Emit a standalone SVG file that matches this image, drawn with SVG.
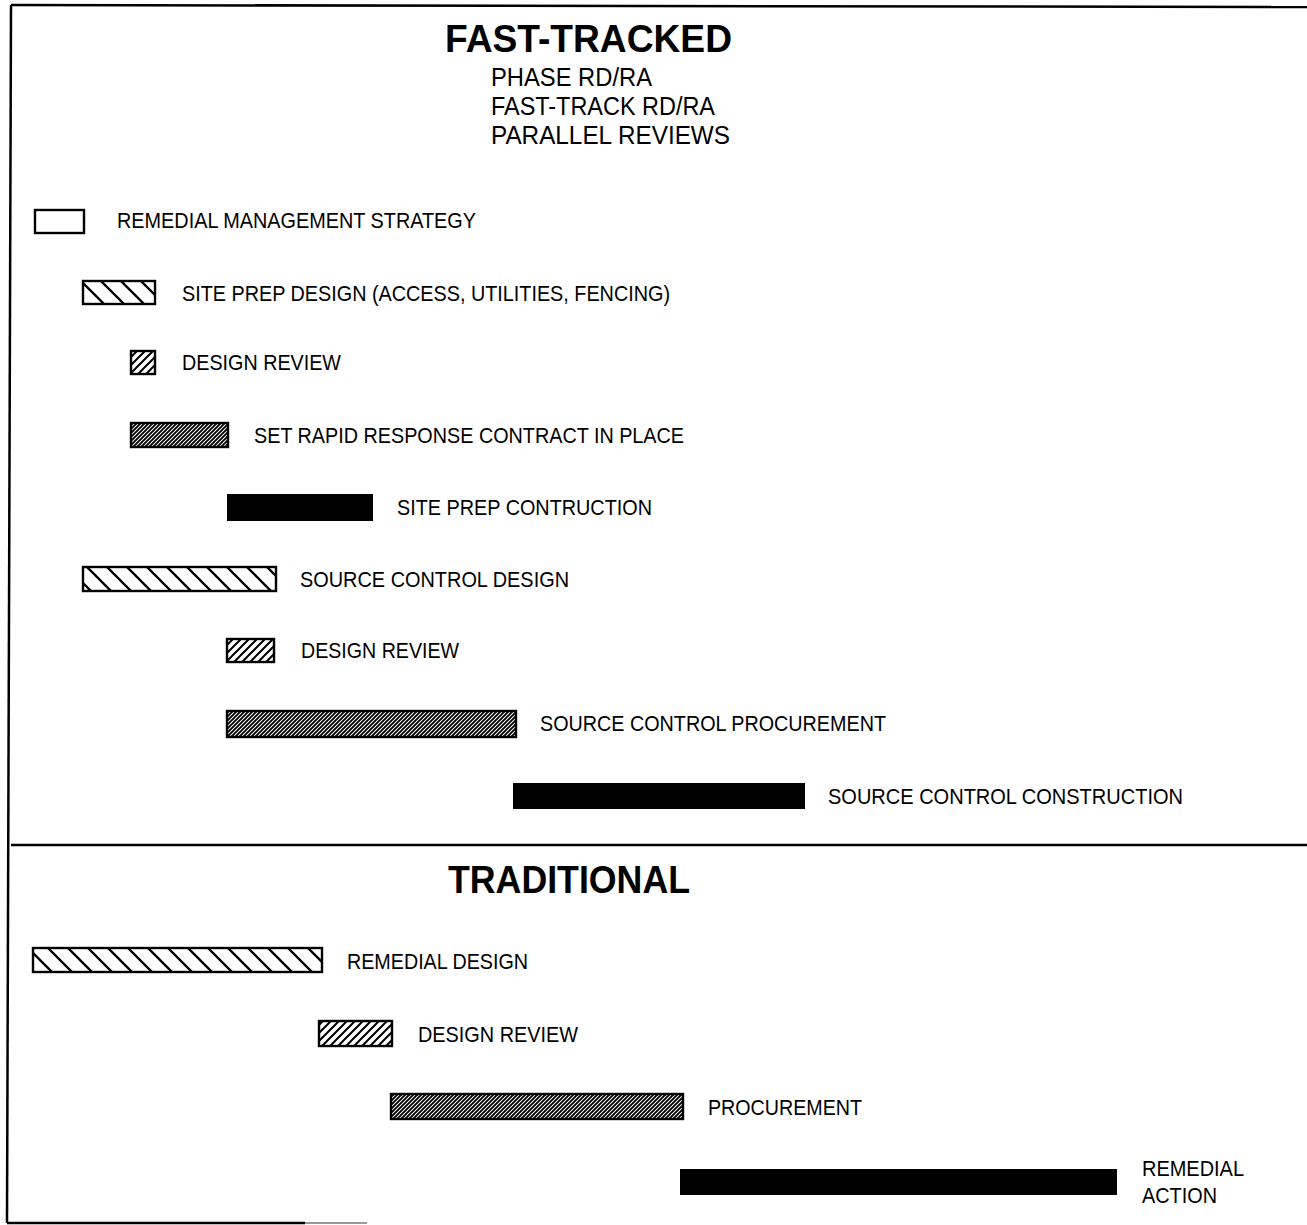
<svg xmlns="http://www.w3.org/2000/svg" width="1307" height="1225" viewBox="0 0 1307 1225">
<style>
.t{font-family:"Liberation Sans",Arial,sans-serif;font-size:22.5px;fill:#000}
.h{font-family:"Liberation Sans",Arial,sans-serif;font-size:25px;fill:#000}
.title{font-family:"Liberation Sans",Arial,sans-serif;font-size:39px;font-weight:bold;fill:#000}
.box{stroke:#000;stroke-width:2.4}
.frame{stroke:#000;stroke-width:2.5;fill:none}
</style>
<defs>
<pattern id="wide" width="20" height="20" patternUnits="userSpaceOnUse">
<rect width="20" height="20" fill="#fff"/>
<path d="M0,0 L20,20 M-2,18 L2,22 M18,-2 L22,2" stroke="#000" stroke-width="2.3"/>
</pattern>
<pattern id="med" width="8" height="8" patternUnits="userSpaceOnUse">
<rect width="8" height="8" fill="#fff"/>
<path d="M-1,9 L9,-1 M-3,3 L3,-3 M5,11 L11,5" stroke="#000" stroke-width="2"/>
</pattern>
<pattern id="fine" width="4" height="4" patternUnits="userSpaceOnUse">
<rect width="4" height="4" fill="#fff"/>
<path d="M-1,5 L5,-1 M-2,2 L2,-2 M2,6 L6,2" stroke="#000" stroke-width="1.9"/>
</pattern>
</defs>
<rect width="1307" height="1225" fill="#fff"/>
<g id="frame">
<line class="frame" x1="11" y1="5" x2="1307" y2="7"/>
<line class="frame" x1="11" y1="5" x2="7" y2="1223"/>
<line class="frame" x1="11" y1="845" x2="1307" y2="845"/>
<line class="frame" x1="7" y1="1223" x2="305" y2="1223"/>
<line x1="305" y1="1223" x2="367" y2="1223" stroke="#999" stroke-width="2"/>
</g>
<g id="header-fast">
<text class="title" x="445" y="52" textLength="287" lengthAdjust="spacingAndGlyphs">FAST-TRACKED</text>
<text class="h" x="491" y="86" textLength="161" lengthAdjust="spacingAndGlyphs">PHASE RD/RA</text>
<text class="h" x="491" y="115" textLength="224" lengthAdjust="spacingAndGlyphs">FAST-TRACK RD/RA</text>
<text class="h" x="491" y="144" textLength="239" lengthAdjust="spacingAndGlyphs">PARALLEL REVIEWS</text>
</g>
<g id="n1"><rect class="box" x="35" y="210" width="49" height="23" fill="#fff"/><text class="t" x="117" y="228" textLength="359" lengthAdjust="spacingAndGlyphs">REMEDIAL MANAGEMENT STRATEGY</text></g>
<g id="n2"><rect class="box" x="83" y="281" width="72" height="23" fill="url(#wide)"/><text class="t" x="182" y="301" textLength="488" lengthAdjust="spacingAndGlyphs">SITE PREP DESIGN (ACCESS, UTILITIES, FENCING)</text></g>
<g id="n3"><rect class="box" x="131" y="351" width="24" height="23" fill="url(#med)"/><text class="t" x="182" y="370" textLength="159" lengthAdjust="spacingAndGlyphs">DESIGN REVIEW</text></g>
<g id="n4"><rect class="box" x="131" y="423" width="97" height="24" fill="url(#fine)"/><text class="t" x="254" y="443" textLength="430" lengthAdjust="spacingAndGlyphs">SET RAPID RESPONSE CONTRACT IN PLACE</text></g>
<g id="n5"><rect x="227" y="494" width="146" height="27" fill="#000"/><text class="t" x="397" y="515" textLength="255" lengthAdjust="spacingAndGlyphs">SITE PREP CONTRUCTION</text></g>
<g id="n6"><rect class="box" x="83" y="567" width="193" height="24" fill="url(#wide)"/><text class="t" x="300" y="587" textLength="269" lengthAdjust="spacingAndGlyphs">SOURCE CONTROL DESIGN</text></g>
<g id="n7"><rect class="box" x="227" y="639" width="47" height="23" fill="url(#med)"/><text class="t" x="301" y="658" textLength="158" lengthAdjust="spacingAndGlyphs">DESIGN REVIEW</text></g>
<g id="n8"><rect class="box" x="227" y="711" width="289" height="26" fill="url(#fine)"/><text class="t" x="540" y="731" textLength="346" lengthAdjust="spacingAndGlyphs">SOURCE CONTROL PROCUREMENT</text></g>
<g id="n9"><rect x="513" y="783" width="292" height="26" fill="#000"/><text class="t" x="828" y="804" textLength="355" lengthAdjust="spacingAndGlyphs">SOURCE CONTROL CONSTRUCTION</text></g>
<g id="header-trad">
<text class="title" x="448" y="893" textLength="242" lengthAdjust="spacingAndGlyphs">TRADITIONAL</text>
</g>
<g id="n10"><rect class="box" x="33" y="948" width="289" height="24" fill="url(#wide)"/><text class="t" x="347" y="969" textLength="181" lengthAdjust="spacingAndGlyphs">REMEDIAL DESIGN</text></g>
<g id="n11"><rect class="box" x="319" y="1021" width="73" height="25" fill="url(#med)"/><text class="t" x="418" y="1042" textLength="160" lengthAdjust="spacingAndGlyphs">DESIGN REVIEW</text></g>
<g id="n12"><rect class="box" x="391" y="1094" width="292" height="25" fill="url(#fine)"/><text class="t" x="708" y="1115" textLength="154" lengthAdjust="spacingAndGlyphs">PROCUREMENT</text></g>
<g id="n13"><rect x="680" y="1169" width="437" height="26" fill="#000"/><text class="t" x="1142" y="1176" textLength="102" lengthAdjust="spacingAndGlyphs">REMEDIAL</text><text class="t" x="1142" y="1203" textLength="75" lengthAdjust="spacingAndGlyphs">ACTION</text></g>
<g id="connectors"></g>
</svg>
